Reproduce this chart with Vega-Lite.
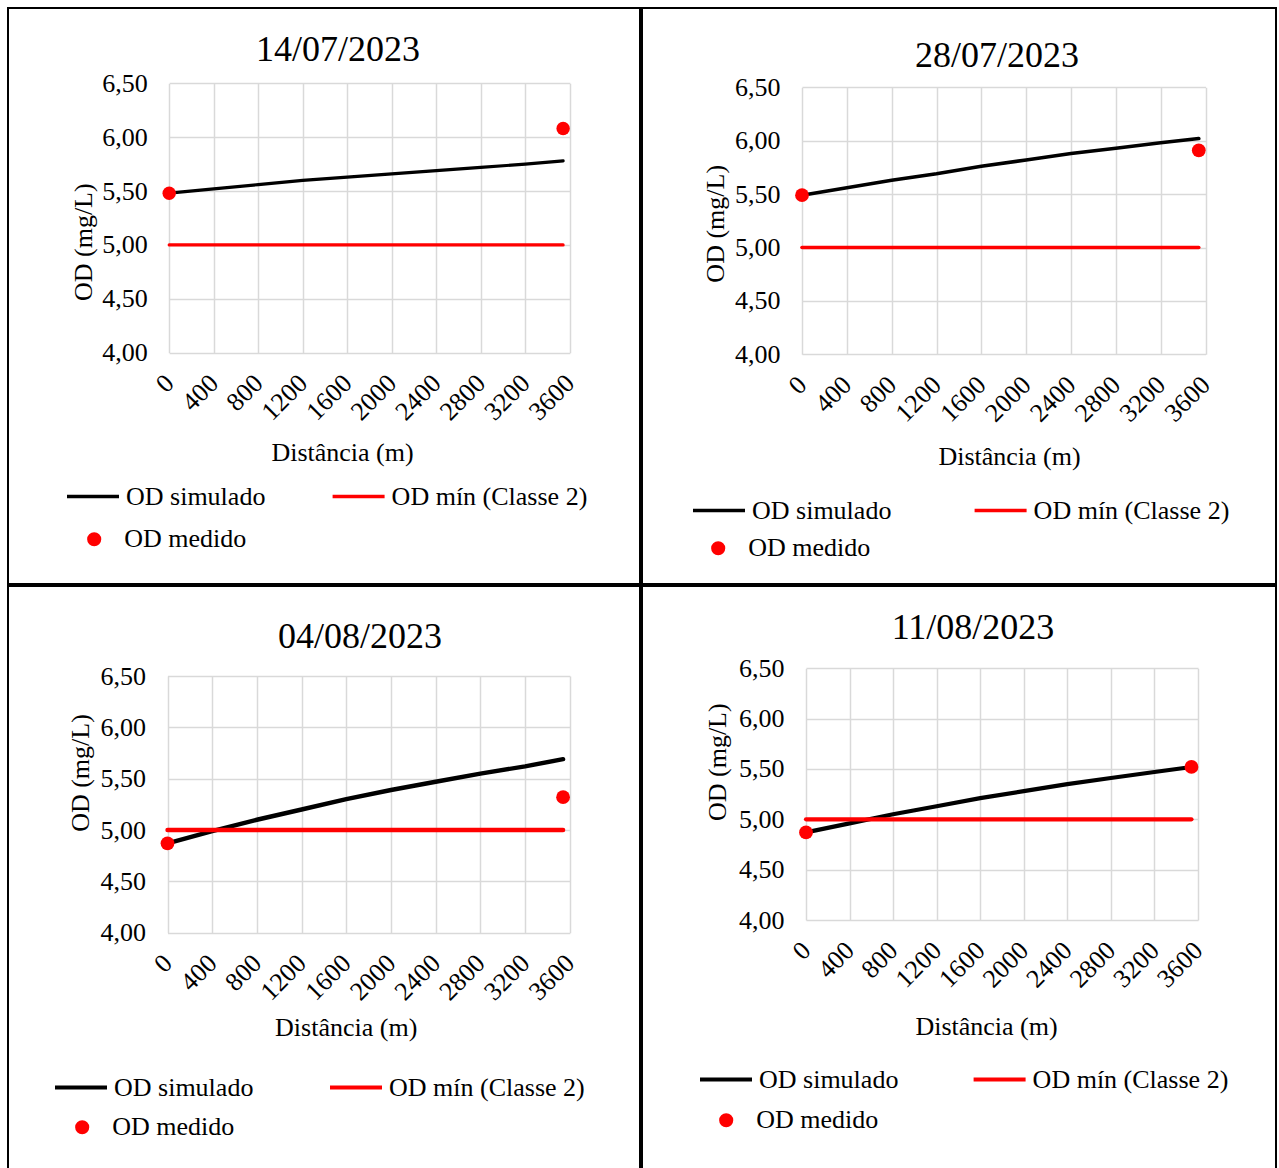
{
  "$schema": "https://vega.github.io/schema/vega-lite/v6.json",
  "background": "white",
  "padding": {"left": 7, "top": 7, "right": 0, "bottom": 0},
  "config": {
    "font": "Liberation Serif",
    "view": {"stroke": "black", "strokeWidth": 2},
    "axis": {
      "labelFont": "Liberation Serif",
      "titleFont": "Liberation Serif",
      "labelFontSize": 26,
      "titleFontSize": 26,
      "titleFontWeight": "normal",
      "labelColor": "black",
      "titleColor": "black",
      "domain": false,
      "ticks": false,
      "tickSize": 0,
      "grid": true,
      "gridColor": "#d9d9d9",
      "gridWidth": 1.5,
      "labelOverlap": false,
      "labelFlush": false,
      "labelBound": false
    },
    "legend": {
      "labelFont": "Liberation Serif",
      "labelFontSize": 26,
      "labelColor": "black",
      "labelLimit": 400,
      "padding": 0,
      "title": null
    },
    "title": {
      "font": "Liberation Serif",
      "fontSize": 36,
      "fontWeight": "normal",
      "color": "black",
      "frame": "group",
      "anchor": "middle",
      "baseline": "middle"
    }
  },
  "datasets": {
    "od": [
      {"data": "14/07/2023", "serie": "OD simulado", "distancia": 0, "od": 5.48},
      {"data": "14/07/2023", "serie": "OD simulado", "distancia": 400, "od": 5.52},
      {"data": "14/07/2023", "serie": "OD simulado", "distancia": 800, "od": 5.56},
      {"data": "14/07/2023", "serie": "OD simulado", "distancia": 1200, "od": 5.60},
      {"data": "14/07/2023", "serie": "OD simulado", "distancia": 1600, "od": 5.63},
      {"data": "14/07/2023", "serie": "OD simulado", "distancia": 2000, "od": 5.66},
      {"data": "14/07/2023", "serie": "OD simulado", "distancia": 2400, "od": 5.69},
      {"data": "14/07/2023", "serie": "OD simulado", "distancia": 2800, "od": 5.72},
      {"data": "14/07/2023", "serie": "OD simulado", "distancia": 3200, "od": 5.75},
      {"data": "14/07/2023", "serie": "OD simulado", "distancia": 3540, "od": 5.78},
      {"data": "14/07/2023", "serie": "OD mín (Classe 2)", "distancia": 0, "od": 5.0},
      {"data": "14/07/2023", "serie": "OD mín (Classe 2)", "distancia": 3540, "od": 5.0},
      {"data": "14/07/2023", "serie": "OD medido", "distancia": 0, "od": 5.48},
      {"data": "14/07/2023", "serie": "OD medido", "distancia": 3540, "od": 6.08},

      {"data": "28/07/2023", "serie": "OD simulado", "distancia": 0, "od": 5.49},
      {"data": "28/07/2023", "serie": "OD simulado", "distancia": 400, "od": 5.56},
      {"data": "28/07/2023", "serie": "OD simulado", "distancia": 800, "od": 5.63},
      {"data": "28/07/2023", "serie": "OD simulado", "distancia": 1200, "od": 5.69},
      {"data": "28/07/2023", "serie": "OD simulado", "distancia": 1600, "od": 5.76},
      {"data": "28/07/2023", "serie": "OD simulado", "distancia": 2000, "od": 5.82},
      {"data": "28/07/2023", "serie": "OD simulado", "distancia": 2400, "od": 5.88},
      {"data": "28/07/2023", "serie": "OD simulado", "distancia": 2800, "od": 5.93},
      {"data": "28/07/2023", "serie": "OD simulado", "distancia": 3200, "od": 5.98},
      {"data": "28/07/2023", "serie": "OD simulado", "distancia": 3540, "od": 6.02},
      {"data": "28/07/2023", "serie": "OD mín (Classe 2)", "distancia": 0, "od": 5.0},
      {"data": "28/07/2023", "serie": "OD mín (Classe 2)", "distancia": 3540, "od": 5.0},
      {"data": "28/07/2023", "serie": "OD medido", "distancia": 0, "od": 5.49},
      {"data": "28/07/2023", "serie": "OD medido", "distancia": 3540, "od": 5.91},

      {"data": "04/08/2023", "serie": "OD simulado", "distancia": 0, "od": 4.87},
      {"data": "04/08/2023", "serie": "OD simulado", "distancia": 400, "od": 4.99},
      {"data": "04/08/2023", "serie": "OD simulado", "distancia": 800, "od": 5.10},
      {"data": "04/08/2023", "serie": "OD simulado", "distancia": 1200, "od": 5.20},
      {"data": "04/08/2023", "serie": "OD simulado", "distancia": 1600, "od": 5.30},
      {"data": "04/08/2023", "serie": "OD simulado", "distancia": 2000, "od": 5.39},
      {"data": "04/08/2023", "serie": "OD simulado", "distancia": 2400, "od": 5.47},
      {"data": "04/08/2023", "serie": "OD simulado", "distancia": 2800, "od": 5.55},
      {"data": "04/08/2023", "serie": "OD simulado", "distancia": 3200, "od": 5.62},
      {"data": "04/08/2023", "serie": "OD simulado", "distancia": 3540, "od": 5.69},
      {"data": "04/08/2023", "serie": "OD mín (Classe 2)", "distancia": 0, "od": 5.0},
      {"data": "04/08/2023", "serie": "OD mín (Classe 2)", "distancia": 3540, "od": 5.0},
      {"data": "04/08/2023", "serie": "OD medido", "distancia": 0, "od": 4.87},
      {"data": "04/08/2023", "serie": "OD medido", "distancia": 3540, "od": 5.32},

      {"data": "11/08/2023", "serie": "OD simulado", "distancia": 0, "od": 4.87},
      {"data": "11/08/2023", "serie": "OD simulado", "distancia": 400, "od": 4.96},
      {"data": "11/08/2023", "serie": "OD simulado", "distancia": 800, "od": 5.05},
      {"data": "11/08/2023", "serie": "OD simulado", "distancia": 1200, "od": 5.13},
      {"data": "11/08/2023", "serie": "OD simulado", "distancia": 1600, "od": 5.21},
      {"data": "11/08/2023", "serie": "OD simulado", "distancia": 2000, "od": 5.28},
      {"data": "11/08/2023", "serie": "OD simulado", "distancia": 2400, "od": 5.35},
      {"data": "11/08/2023", "serie": "OD simulado", "distancia": 2800, "od": 5.41},
      {"data": "11/08/2023", "serie": "OD simulado", "distancia": 3200, "od": 5.47},
      {"data": "11/08/2023", "serie": "OD simulado", "distancia": 3540, "od": 5.52},
      {"data": "11/08/2023", "serie": "OD mín (Classe 2)", "distancia": 0, "od": 5.0},
      {"data": "11/08/2023", "serie": "OD mín (Classe 2)", "distancia": 3540, "od": 5.0},
      {"data": "11/08/2023", "serie": "OD medido", "distancia": 0, "od": 4.87},
      {"data": "11/08/2023", "serie": "OD medido", "distancia": 3540, "od": 5.52}
    ]
  },
  "spacing": 0,
  "resolve": {"scale": {"stroke": "independent", "fill": "independent"}},
  "vconcat": [
    {
      "spacing": 0,
      "resolve": {"scale": {"stroke": "independent", "fill": "independent"}},
      "hconcat": [
        {
          "width": 632,
          "height": 576,
          "title": {"text": "14/07/2023", "offset": -61, "dx": 14},
          "data": {"name": "od"},
          "transform": [{"filter": "datum.data === '14/07/2023'"}],
          "encoding": {
            "x": {
              "field": "distancia", "type": "quantitative",
              "scale": {"domain": [0, 3600], "range": [161.2, 561.8], "nice": false, "zero": false},
              "axis": {
                "orient": "top", "offset": -344.7, "format": "d",
                "values": [0, 400, 800, 1200, 1600, 2000, 2400, 2800, 3200, 3600],
                "labelAngle": -45, "labelAlign": "right", "labelBaseline": "middle", "labelPadding": -26,
                "title": "Distância (m)", "titleX": 334, "titleY": 100, "titleAlign": "center", "titleBaseline": "middle", "titleAngle": 0
              }
            },
            "y": {
              "field": "od", "type": "quantitative",
              "scale": {"domain": [4, 6.5], "range": [344.7, 75.3], "nice": false, "zero": false},
              "axis": {
                "values": [4, 4.5, 5, 5.5, 6, 6.5],
                "labelExpr": "replace(format(datum.value, '.2f'), '.', ',')",
                "labelPadding": 22, "labelAlign": "right", "labelBaseline": "middle",
                "offset": -161.2,
                "title": "OD (mg/L)", "titleX": -85.5, "titleY": 233.7, "titleAngle": -90, "titleAlign": "center", "titleBaseline": "middle"
              }
            }
          },
          "layer": [
            {
              "transform": [{"filter": "datum.serie !== 'OD medido'"}],
              "mark": {"type": "line", "strokeWidth": 3.2, "strokeCap": "round"},
              "encoding": {
                "stroke": {
                  "field": "serie", "type": "nominal",
                  "scale": {"domain": ["OD simulado", "OD mín (Classe 2)"], "range": ["#000000", "#ff0000"]},
                  "legend": {"orient": "none", "legendX": 57, "legendY": 460.5, "direction": "horizontal", "columns": 2, "columnPadding": 59.6, "symbolType": "stroke", "symbolSize": 2704, "symbolStrokeWidth": 3.5, "labelOffset": 5}
                }
              }
            },
            {
              "transform": [{"filter": "datum.serie === 'OD medido'"}],
              "mark": {"type": "point", "filled": true, "size": 180, "opacity": 1, "strokeWidth": 0},
              "encoding": {
                "fill": {
                  "field": "serie", "type": "nominal",
                  "scale": {"domain": ["OD medido"], "range": ["#ff0000"]},
                  "legend": {"orient": "none", "legendX": 73.2, "legendY": 518.2, "symbolType": "circle", "symbolSize": 200, "labelOffset": 17}
                }
              }
            }
          ]
        },
        {
          "width": 634,
          "height": 576,
          "title": {"text": "28/07/2023", "offset": -67, "dx": 38},
          "data": {"name": "od"},
          "transform": [{"filter": "datum.data === '28/07/2023'"}],
          "encoding": {
            "x": {
              "field": "distancia", "type": "quantitative",
              "scale": {"domain": [0, 3600], "range": [160, 563.5], "nice": false, "zero": false},
              "axis": {
                "orient": "top", "offset": -346.3, "format": "d",
                "values": [0, 400, 800, 1200, 1600, 2000, 2400, 2800, 3200, 3600],
                "labelAngle": -45, "labelAlign": "right", "labelBaseline": "middle", "labelPadding": -26,
                "title": "Distância (m)", "titleX": 367, "titleY": 102, "titleAlign": "center", "titleBaseline": "middle", "titleAngle": 0
              }
            },
            "y": {
              "field": "od", "type": "quantitative",
              "scale": {"domain": [4, 6.5], "range": [346.3, 79.3], "nice": false, "zero": false},
              "axis": {
                "values": [4, 4.5, 5, 5.5, 6, 6.5],
                "labelExpr": "replace(format(datum.value, '.2f'), '.', ',')",
                "labelPadding": 22, "labelAlign": "right", "labelBaseline": "middle",
                "offset": -160,
                "title": "OD (mg/L)", "titleX": -87, "titleY": 215.3, "titleAngle": -90, "titleAlign": "center", "titleBaseline": "middle"
              }
            }
          },
          "layer": [
            {
              "transform": [{"filter": "datum.serie !== 'OD medido'"}],
              "mark": {"type": "line", "strokeWidth": 3.6, "strokeCap": "round"},
              "encoding": {
                "stroke": {
                  "field": "serie", "type": "nominal",
                  "scale": {"domain": ["OD simulado", "OD mín (Classe 2)"], "range": ["#000000", "#ff0000"]},
                  "legend": {"orient": "none", "legendX": 49, "legendY": 474.5, "direction": "horizontal", "columns": 2, "columnPadding": 75.6, "symbolType": "stroke", "symbolSize": 2704, "symbolStrokeWidth": 3.5, "labelOffset": 5}
                }
              }
            },
            {
              "transform": [{"filter": "datum.serie === 'OD medido'"}],
              "mark": {"type": "point", "filled": true, "size": 190, "opacity": 1, "strokeWidth": 0},
              "encoding": {
                "fill": {
                  "field": "serie", "type": "nominal",
                  "scale": {"domain": ["OD medido"], "range": ["#ff0000"]},
                  "legend": {"orient": "none", "legendX": 63.2, "legendY": 527.2, "symbolType": "circle", "symbolSize": 200, "labelOffset": 17}
                }
              }
            }
          ]
        }
      ]
    },
    {
      "spacing": 0,
      "resolve": {"scale": {"stroke": "independent", "fill": "independent"}},
      "hconcat": [
        {
          "width": 632,
          "height": 586,
          "title": {"text": "04/08/2023", "offset": -70, "dx": 36},
          "data": {"name": "od"},
          "transform": [{"filter": "datum.data === '04/08/2023'"}],
          "encoding": {
            "x": {
              "field": "distancia", "type": "quantitative",
              "scale": {"domain": [0, 3600], "range": [159.5, 561.8], "nice": false, "zero": false},
              "axis": {
                "orient": "top", "offset": -346.7, "format": "d",
                "values": [0, 400, 800, 1200, 1600, 2000, 2400, 2800, 3200, 3600],
                "labelAngle": -45, "labelAlign": "right", "labelBaseline": "middle", "labelPadding": -26,
                "title": "Distância (m)", "titleX": 337.7, "titleY": 94.5, "titleAlign": "center", "titleBaseline": "middle", "titleAngle": 0
              }
            },
            "y": {
              "field": "od", "type": "quantitative",
              "scale": {"domain": [4, 6.5], "range": [346.7, 90], "nice": false, "zero": false},
              "axis": {
                "values": [4, 4.5, 5, 5.5, 6, 6.5],
                "labelExpr": "replace(format(datum.value, '.2f'), '.', ',')",
                "labelPadding": 22, "labelAlign": "right", "labelBaseline": "middle",
                "offset": -159.5,
                "title": "OD (mg/L)", "titleX": -87.2, "titleY": 186.5, "titleAngle": -90, "titleAlign": "center", "titleBaseline": "middle"
              }
            }
          },
          "layer": [
            {
              "transform": [{"filter": "datum.serie !== 'OD medido'"}],
              "mark": {"type": "line", "strokeWidth": 4.4, "strokeCap": "round"},
              "encoding": {
                "stroke": {
                  "field": "serie", "type": "nominal",
                  "scale": {"domain": ["OD simulado", "OD mín (Classe 2)"], "range": ["#000000", "#ff0000"]},
                  "legend": {"orient": "none", "legendX": 45, "legendY": 473.5, "direction": "horizontal", "columns": 2, "columnPadding": 68, "symbolType": "stroke", "symbolSize": 2704, "symbolStrokeWidth": 4, "labelOffset": 5}
                }
              }
            },
            {
              "transform": [{"filter": "datum.serie === 'OD medido'"}],
              "mark": {"type": "point", "filled": true, "size": 190, "opacity": 1, "strokeWidth": 0},
              "encoding": {
                "fill": {
                  "field": "serie", "type": "nominal",
                  "scale": {"domain": ["OD medido"], "range": ["#ff0000"]},
                  "legend": {"orient": "none", "legendX": 61.2, "legendY": 528.2, "symbolType": "circle", "symbolSize": 200, "labelOffset": 17}
                }
              }
            }
          ]
        },
        {
          "width": 634,
          "height": 586,
          "title": {"text": "11/08/2023", "offset": -61, "dx": 14},
          "data": {"name": "od"},
          "transform": [{"filter": "datum.data === '11/08/2023'"}],
          "encoding": {
            "x": {
              "field": "distancia", "type": "quantitative",
              "scale": {"domain": [0, 3600], "range": [164, 556], "nice": false, "zero": false},
              "axis": {
                "orient": "top", "offset": -334, "format": "d",
                "values": [0, 400, 800, 1200, 1600, 2000, 2400, 2800, 3200, 3600],
                "labelAngle": -45, "labelAlign": "right", "labelBaseline": "middle", "labelPadding": -26,
                "title": "Distância (m)", "titleX": 344, "titleY": 106.7, "titleAlign": "center", "titleBaseline": "middle", "titleAngle": 0
              }
            },
            "y": {
              "field": "od", "type": "quantitative",
              "scale": {"domain": [4, 6.5], "range": [334, 82.3], "nice": false, "zero": false},
              "axis": {
                "values": [4, 4.5, 5, 5.5, 6, 6.5],
                "labelExpr": "replace(format(datum.value, '.2f'), '.', ',')",
                "labelPadding": 22, "labelAlign": "right", "labelBaseline": "middle",
                "offset": -164,
                "title": "OD (mg/L)", "titleX": -88.5, "titleY": 175.7, "titleAngle": -90, "titleAlign": "center", "titleBaseline": "middle"
              }
            }
          },
          "layer": [
            {
              "transform": [{"filter": "datum.serie !== 'OD medido'"}],
              "mark": {"type": "line", "strokeWidth": 4.2, "strokeCap": "round"},
              "encoding": {
                "stroke": {
                  "field": "serie", "type": "nominal",
                  "scale": {"domain": ["OD simulado", "OD mín (Classe 2)"], "range": ["#000000", "#ff0000"]},
                  "legend": {"orient": "none", "legendX": 56, "legendY": 465.5, "direction": "horizontal", "columns": 2, "columnPadding": 66.6, "symbolType": "stroke", "symbolSize": 2704, "symbolStrokeWidth": 4, "labelOffset": 5}
                }
              }
            },
            {
              "transform": [{"filter": "datum.serie === 'OD medido'"}],
              "mark": {"type": "point", "filled": true, "size": 190, "opacity": 1, "strokeWidth": 0},
              "encoding": {
                "fill": {
                  "field": "serie", "type": "nominal",
                  "scale": {"domain": ["OD medido"], "range": ["#ff0000"]},
                  "legend": {"orient": "none", "legendX": 71.2, "legendY": 521.2, "symbolType": "circle", "symbolSize": 200, "labelOffset": 17}
                }
              }
            }
          ]
        }
      ]
    }
  ]
}
